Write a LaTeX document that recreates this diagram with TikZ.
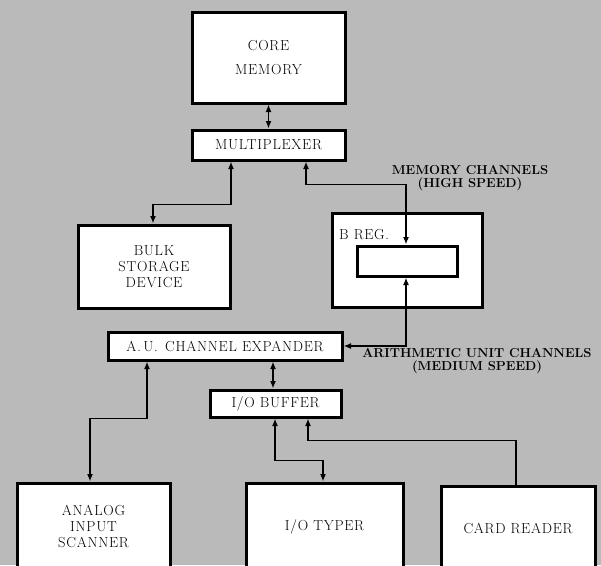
\documentclass[tikz,border=0pt]{standalone}
\usepackage{fontspec}
\usetikzlibrary{arrows.meta}
\newfontfamily\boxfont[LetterSpace=5]{Latin Modern Roman}
\begin{document}
\begin{tikzpicture}[x=1pt,y=-1pt,
  box/.style={draw=black,line width=3pt,fill=white,inner sep=0pt,align=center,
    font=\boxfont\fontsize{14.5}{16}\selectfont},
  conn/.style={line width=1.9pt},
  tip/.tip={Latex[length=7.5pt,width=6pt]},
  lab/.style={font=\fontsize{13}{13.5}\selectfont\bfseries,align=center,inner sep=0pt}]
\fill[black!27] (0,0) rectangle (601,565);
\useasboundingbox (0,0) rectangle (601,565);
\clip (0,0) rectangle (601,565);
% boxes
\node[box,minimum width=153pt,minimum height=91pt,font=\boxfont\fontsize{14.5}{24}\selectfont] (core) at (268.5,57.5) {CORE\\MEMORY};
\node[box,minimum width=153pt,minimum height=30pt] (mult) at (268.5,145) {MULTIPLEXER};
\node[box,minimum width=152pt,minimum height=83pt] (bulk) at (154,266.5) {BULK\\STORAGE\\DEVICE};
\node[box,minimum width=150pt,minimum height=94pt] (breg) at (407,260) {};
\node[box,minimum width=100pt,minimum height=30pt] (inner) at (407,261) {};
\node[font=\boxfont\fontsize{14.5}{16}\selectfont,anchor=west,inner sep=0pt] (bregl) at (339,235) {B REG.};
\node[box,minimum width=234pt,minimum height=28pt] (au) at (225,346) {A.\,U.\, CHANNEL EXPANDER};
\node[box,minimum width=131pt,minimum height=27pt] (iob) at (275.5,403.5) {I/O BUFFER};
\node[box,minimum width=153pt,minimum height=87pt] (analog) at (93.5,526.5) {ANALOG\\INPUT\\SCANNER};
\node[box,minimum width=157pt,minimum height=87pt] (typer) at (324.5,526.5) {I/O TYPER};
\node[box,minimum width=154pt,minimum height=84pt] (card) at (518,528) {CARD READER};
% labels
\node[lab] (memch) at (470,178) {MEMORY CHANNELS\\(HIGH SPEED)};
\node[lab] (auch) at (477,361) {ARITHMETIC UNIT CHANNELS\\(MEDIUM SPEED)};
% bend coordinates
\coordinate (c1) at (231,0);
\coordinate (b1) at (153,0);
\coordinate (c2) at (306,0);
\coordinate (c3) at (406,0);
\coordinate (a1) at (147,0);
\coordinate (a2) at (90,0);
\coordinate (i1) at (275,0);
\coordinate (i2) at (323,0);
\coordinate (i3) at (308,0);
\coordinate (r1) at (516,0);
\coordinate (x1) at (273,0);
% connectors
\draw[conn,{tip}-{tip}] (core.south) -- (mult.north);
\draw[conn,{tip}-{tip}] (mult.south -| c1) -- ++(0,43) -| (bulk.north -| b1);
\draw[conn,{tip}-{tip}] (mult.south -| c2) -- ++(0,23) -| (inner.north -| c3);
\draw[conn,{tip}-{tip}] (inner.south -| c3) |- (au.east);
\draw[conn,{tip}-{tip}] (au.south -| x1) -- (iob.north -| x1);
\draw[conn,{tip}-{tip}] (au.south -| a1) -- ++(0,57) -| (analog.north -| a2);
\draw[conn,{tip}-{tip}] (iob.south -| i1) -- ++(0,42) -| (typer.north -| i2);
\draw[conn,{tip}-] (iob.south -| i3) -- ++(0,22) -| (card.north -| r1);
\end{tikzpicture}
\end{document}
